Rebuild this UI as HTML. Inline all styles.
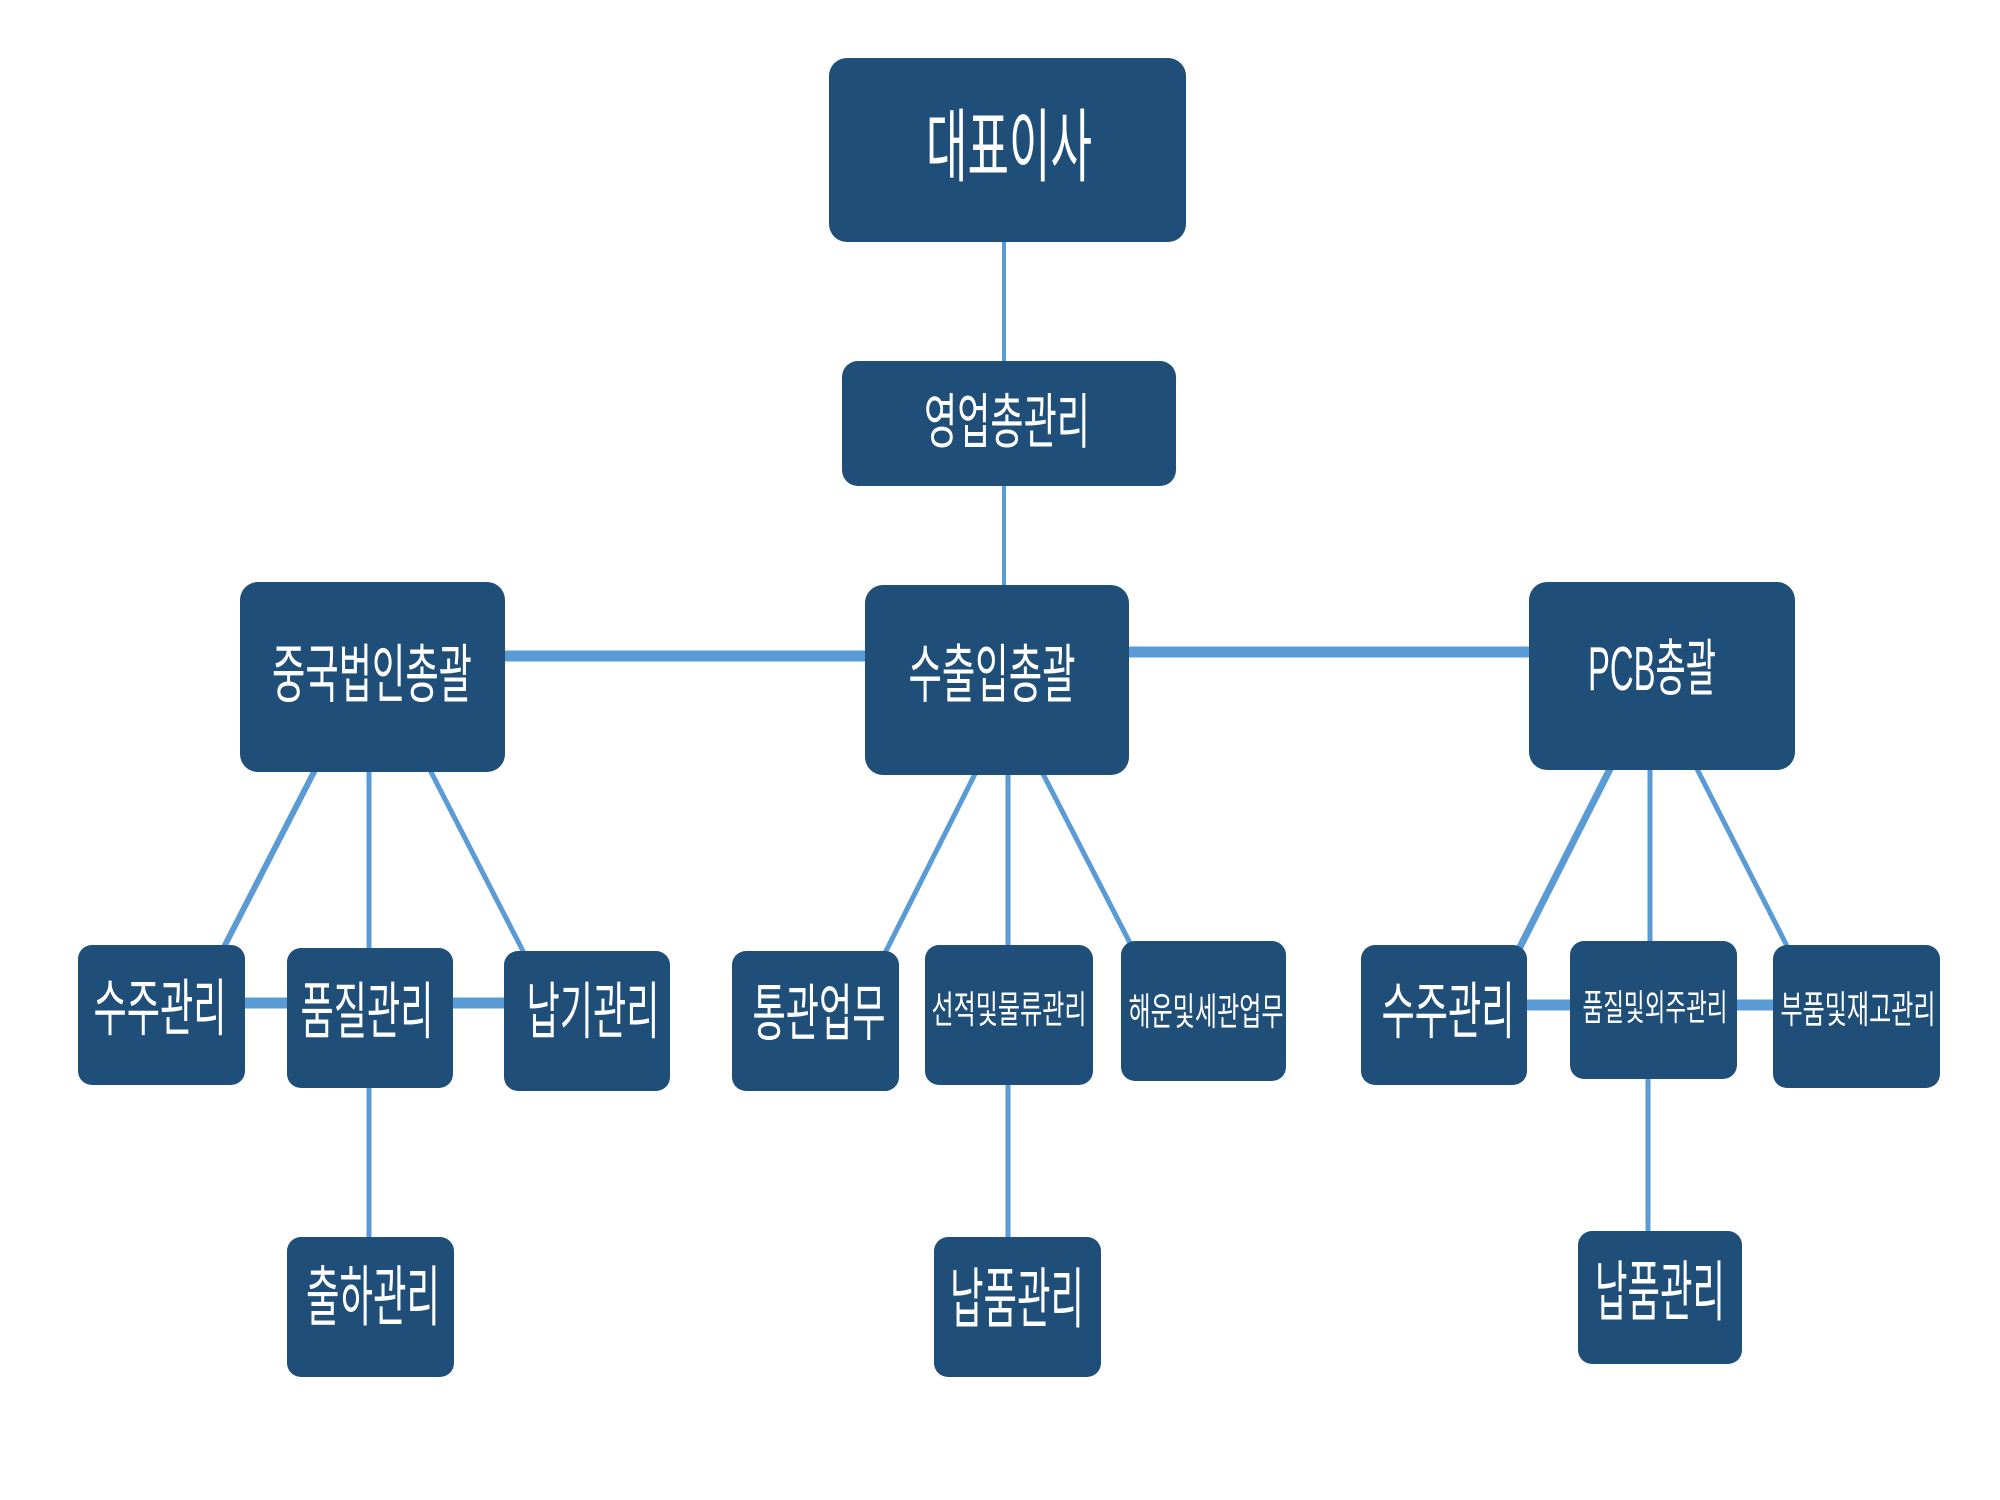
<!DOCTYPE html>
<html><head><meta charset="utf-8"><style>
html,body{margin:0;padding:0;background:#fff;}
svg{display:block}
text{font-family:"Liberation Sans","Noto Sans CJK KR","NanumGothic",sans-serif;fill:#fff;text-anchor:middle;}
</style></head><body>
<svg width="2000" height="1500" viewBox="0 0 2000 1500" xmlns="http://www.w3.org/2000/svg">
<g stroke="#5b9bd5" fill="none" stroke-linecap="butt">
 <line x1="1004" y1="240" x2="1004" y2="365" stroke-width="4"/>
 <line x1="1004" y1="485" x2="1004" y2="592" stroke-width="4"/>
 <line x1="505" y1="656" x2="865" y2="656" stroke-width="11"/>
 <line x1="1129" y1="652" x2="1529" y2="652" stroke-width="11"/>
 <line x1="315" y1="770" x2="223" y2="949" stroke-width="6"/>
 <line x1="369" y1="770" x2="369" y2="951" stroke-width="5"/>
 <line x1="430" y1="770" x2="524" y2="953" stroke-width="5"/>
 <line x1="245" y1="1003" x2="287" y2="1003" stroke-width="11"/>
 <line x1="453" y1="1003" x2="504" y2="1003" stroke-width="11"/>
 <line x1="369" y1="1083" x2="369" y2="1237" stroke-width="5"/>
 <line x1="977" y1="770" x2="885" y2="953" stroke-width="5"/>
 <line x1="1008" y1="770" x2="1008" y2="951" stroke-width="5"/>
 <line x1="1041" y1="770" x2="1130" y2="943" stroke-width="5"/>
 <line x1="1008" y1="1083" x2="1008" y2="1237" stroke-width="5"/>
 <line x1="1612" y1="765" x2="1518" y2="951" stroke-width="7"/>
 <line x1="1650" y1="765" x2="1650" y2="943" stroke-width="5"/>
 <line x1="1695" y1="765" x2="1788" y2="948" stroke-width="5"/>
 <line x1="1527" y1="1005" x2="1570" y2="1005" stroke-width="11"/>
 <line x1="1737" y1="1005" x2="1773" y2="1005" stroke-width="11"/>
 <line x1="1648" y1="1073" x2="1648" y2="1233" stroke-width="5"/>
</g>
<g fill="#1f4e79">
 <rect x="829" y="58" width="357" height="184" rx="18"/>
 <rect x="842" y="361" width="334" height="125" rx="16"/>
 <rect x="240" y="582" width="265" height="190" rx="18"/>
 <rect x="865" y="585" width="264" height="190" rx="18"/>
 <rect x="1529" y="582" width="266" height="188" rx="18"/>
 <rect x="78" y="945" width="167" height="140" rx="14"/>
 <rect x="287" y="948" width="166" height="140" rx="14"/>
 <rect x="504" y="951" width="166" height="140" rx="14"/>
 <rect x="732" y="951" width="167" height="140" rx="14"/>
 <rect x="925" y="945" width="168" height="140" rx="14"/>
 <rect x="1121" y="941" width="165" height="140" rx="14"/>
 <rect x="1361" y="945" width="166" height="140" rx="14"/>
 <rect x="1570" y="941" width="167" height="138" rx="14"/>
 <rect x="1773" y="945" width="167" height="143" rx="14"/>
 <rect x="287" y="1237" width="167" height="140" rx="14"/>
 <rect x="934" y="1237" width="167" height="140" rx="14"/>
 <rect x="1578" y="1231" width="164" height="133" rx="14"/>
</g>
<g>
 <text x="1009" y="175" font-size="80" textLength="166" lengthAdjust="spacingAndGlyphs">대표이사</text>
 <text x="1007" y="443" font-size="60" textLength="166" lengthAdjust="spacingAndGlyphs">영업총관리</text>
 <text x="372" y="697" font-size="64" textLength="200" lengthAdjust="spacingAndGlyphs">중국법인총괄</text>
 <text x="992" y="697" font-size="64" textLength="167" lengthAdjust="spacingAndGlyphs">수출입총괄</text>
 <text x="1652" y="690" font-size="62" textLength="128" lengthAdjust="spacingAndGlyphs">PCB총괄</text>
 <text x="160" y="1030" font-size="62" textLength="133" lengthAdjust="spacingAndGlyphs">수주관리</text>
 <text x="367" y="1033" font-size="62" textLength="133" lengthAdjust="spacingAndGlyphs">품질관리</text>
 <text x="593" y="1033" font-size="62" textLength="133" lengthAdjust="spacingAndGlyphs">납기관리</text>
 <text x="819" y="1035" font-size="62" textLength="133" lengthAdjust="spacingAndGlyphs">통관업무</text>
 <text x="1009" y="1023" font-size="38" textLength="155" lengthAdjust="spacingAndGlyphs">선적및물류관리</text>
 <text x="1206" y="1025" font-size="38" textLength="155" lengthAdjust="spacingAndGlyphs">해운및세관업무</text>
 <text x="1448" y="1033" font-size="62" textLength="133" lengthAdjust="spacingAndGlyphs">수주관리</text>
 <text x="1655" y="1020" font-size="36" textLength="145" lengthAdjust="spacingAndGlyphs">품질및외주관리</text>
 <text x="1858" y="1023" font-size="38" textLength="155" lengthAdjust="spacingAndGlyphs">부품및재고관리</text>
 <text x="373" y="1320" font-size="66" textLength="134" lengthAdjust="spacingAndGlyphs">출하관리</text>
 <text x="1017" y="1322" font-size="66" textLength="134" lengthAdjust="spacingAndGlyphs">납품관리</text>
 <text x="1660" y="1315" font-size="66" textLength="130" lengthAdjust="spacingAndGlyphs">납품관리</text>
</g>
</svg>
</body></html>
